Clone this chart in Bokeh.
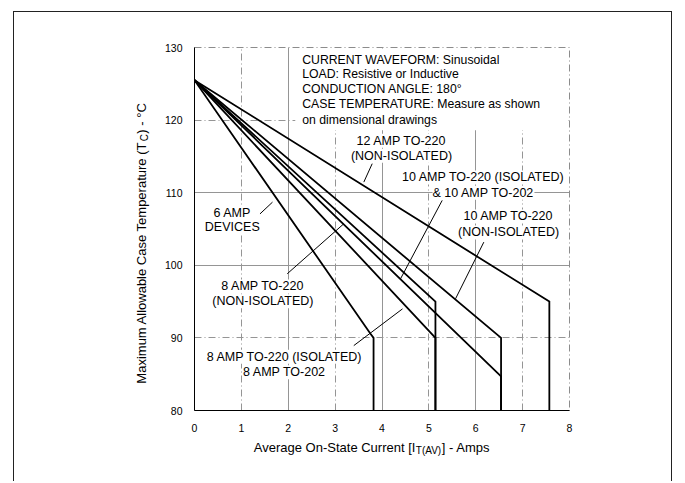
from bokeh.plotting import figure
from bokeh.models import Range1d, FixedTicker, Grid, Label
from bokeh.embed import file_html
from bokeh.resources import INLINE

FONT = "Liberation Sans"

# ---------------- data ----------------
x_ticks = [0, 1, 2, 3, 4, 5, 6, 7, 8]
y_ticks = [80, 90, 100, 110, 120, 130]

# average on-state current (A) vs maximum allowable case temperature (°C)
i_6a = [0.0, 3.75, 3.82, 3.82]
t_6a = [125.5, 90.6, 90.0, 80.0]
i_8a_iso = [0.0, 5.14, 5.14]
t_8a_iso = [125.5, 90.0, 80.0]
i_8a_noniso = [0.0, 5.14, 5.14]
t_8a_noniso = [125.5, 95.0, 80.0]
i_10a_iso = [0.0, 6.54, 6.54]
t_10a_iso = [125.5, 84.7, 80.0]
i_10a_noniso = [0.0, 6.54, 6.54]
t_10a_noniso = [125.5, 90.0, 80.0]
i_12a = [0.0, 7.57, 7.57]
t_12a = [125.5, 95.0, 80.0]

notes = [
    "CURRENT WAVEFORM: Sinusoidal",
    "LOAD: Resistive or Inductive",
    "CONDUCTION ANGLE: 180°",
    "CASE TEMPERATURE: Measure as shown",
    "on dimensional drawings",
]
label_6a = ["6 AMP", "DEVICES"]
label_8a_noniso = ["8 AMP TO-220", "(NON-ISOLATED)"]
label_8a_iso = ["8 AMP TO-220 (ISOLATED)", "8 AMP TO-202"]
label_10a_iso = ["10 AMP TO-220 (ISOLATED)", "& 10 AMP TO-202"]
label_10a_noniso = ["10 AMP TO-220", "(NON-ISOLATED)"]
label_12a = ["12 AMP TO-220", "(NON-ISOLATED)"]

# ---------------- figure ----------------
p = figure(width=659, height=470,
           x_range=Range1d(0, 8), y_range=Range1d(80, 130),
           output_backend="svg", toolbar_location=None,
           min_border_left=180, min_border_right=104,
           min_border_top=35, min_border_bottom=72)
p.styles = {"border-left": "1px solid #222", "border-top": "1px solid #222",
            "border-right": "1px solid #222", "margin-left": "13px", "margin-top": "11px"}
p.background_fill_color = "white"
p.border_fill_color = "white"
p.xgrid.visible = False
p.ygrid.visible = False
p.outline_line_color = "#8c8c8c"
p.outline_line_dash = "7 3 1 3"
p.outline_line_width = 1

for ax, ticks, standoff in ((p.xaxis[0], x_ticks, 13), (p.yaxis[0], y_ticks, 12)):
    ax.ticker = FixedTicker(ticks=ticks)
    ax.major_tick_line_color = None
    ax.minor_tick_line_color = None
    ax.major_tick_out = 0
    ax.major_tick_in = 0
    ax.axis_line_color = "black"
    ax.axis_line_width = 1
    ax.major_label_standoff = standoff
    ax.major_label_text_font = FONT
    ax.major_label_text_font_size = "10.5px"
    ax.major_label_text_color = "black"

GRID_C = "#959595"
DASHDOT = "7 3 1 3"
p.add_layout(Grid(dimension=0, ticker=FixedTicker(ticks=[2, 4, 6]), grid_line_color=GRID_C, grid_line_width=1))
p.add_layout(Grid(dimension=0, ticker=FixedTicker(ticks=[1, 3, 5, 7]), grid_line_color=GRID_C, grid_line_width=1, grid_line_dash=DASHDOT))
p.add_layout(Grid(dimension=1, ticker=FixedTicker(ticks=[100, 110]), grid_line_color=GRID_C, grid_line_width=1))
p.add_layout(Grid(dimension=1, ticker=FixedTicker(ticks=[90, 120]), grid_line_color=GRID_C, grid_line_width=1, grid_line_dash=DASHDOT))

# blank area behind the notes block
p.quad(left=2.15, right=7.97, bottom=118.6, top=129.85, fill_color="white", line_color=None)

LW = 1.8
for xs, ys in ((i_6a, t_6a), (i_8a_iso, t_8a_iso), (i_8a_noniso, t_8a_noniso),
               (i_10a_iso, t_10a_iso), (i_10a_noniso, t_10a_noniso), (i_12a, t_12a)):
    p.line(xs, ys, line_color="black", line_width=LW, line_join="miter")

# leader lines (x0, y0, x1, y1)
leaders = [
    (3.791, 114.0, 3.612, 111.46),
    (5.284, 108.94, 4.395, 98.14),
    (6.172, 103.19, 5.568, 95.38),
    (1.397, 107.08, 1.664, 108.70),
    (1.978, 98.83, 3.185, 105.72),
    (3.398, 88.94, 4.437, 94.0),
]
p.segment(x0=[l[0] for l in leaders], y0=[l[1] for l in leaders],
          x1=[l[2] for l in leaders], y1=[l[3] for l in leaders],
          line_color="black", line_width=1)

# notes block
note_y = [128.34, 126.41, 124.29, 122.28, 120.07]
for txt, yy in zip(notes, note_y):
    p.add_layout(Label(x=2.298, y=yy, text=txt, text_font=FONT, text_font_size="12.25px",
                       text_align="left", text_baseline="middle", text_color="black"))

def two_line(lines, x, y1, y2):
    for txt, yy in zip(lines, (y1, y2)):
        p.add_layout(Label(x=x, y=yy, text=txt, text_font=FONT, text_font_size="12.5px",
                           text_align="center", text_baseline="middle", text_color="black",
                           background_fill_color="white"))

two_line(label_12a, 4.416, 117.14, 115.08)
two_line(label_10a_iso, 6.165, 112.11, 110.0)
two_line(label_10a_noniso, 6.70, 106.73, 104.52)
two_line(label_6a, 0.806, 107.19, 105.26)
two_line(label_8a_noniso, 1.46, 97.08, 95.05)
two_line(label_8a_iso, 1.923, 87.42, 85.26)

# axis titles (with subscripts), placed in the side panels
AX_FS = "13px"
SUB_FS = "10px"
p.add_layout(Label(x=1.265, y=74.91, text="Average On-State Current [I", text_font=FONT,
                   text_font_size=AX_FS, text_align="left", text_baseline="middle",
                   text_color="black"), "below")
p.add_layout(Label(x=1.265, y=74.91, x_offset=162, y_offset=-3, text="T(AV)", text_font=FONT,
                   text_font_size=SUB_FS, text_align="left", text_baseline="middle",
                   text_color="black"), "below")
p.add_layout(Label(x=1.265, y=74.91, x_offset=188, text="] - Amps", text_font=FONT,
                   text_font_size=AX_FS, text_align="left", text_baseline="middle",
                   text_color="black"), "below")

p.add_layout(Label(x=-1.131, y=83.70, angle=1.5707963, text="Maximum Allowable Case Temperature (T",
                   text_font=FONT, text_font_size=AX_FS, text_align="left", text_baseline="middle",
                   text_color="black"), "left")
p.add_layout(Label(x=-1.131, y=83.70, angle=1.5707963, x_offset=3, y_offset=242.5, text="C",
                   text_font=FONT, text_font_size=SUB_FS, text_align="left", text_baseline="middle",
                   text_color="black"), "left")
p.add_layout(Label(x=-1.131, y=83.70, angle=1.5707963, y_offset=250, text=") - °C",
                   text_font=FONT, text_font_size=AX_FS, text_align="left", text_baseline="middle",
                   text_color="black"), "left")

open("out.html", "w").write(file_html(p, INLINE))
